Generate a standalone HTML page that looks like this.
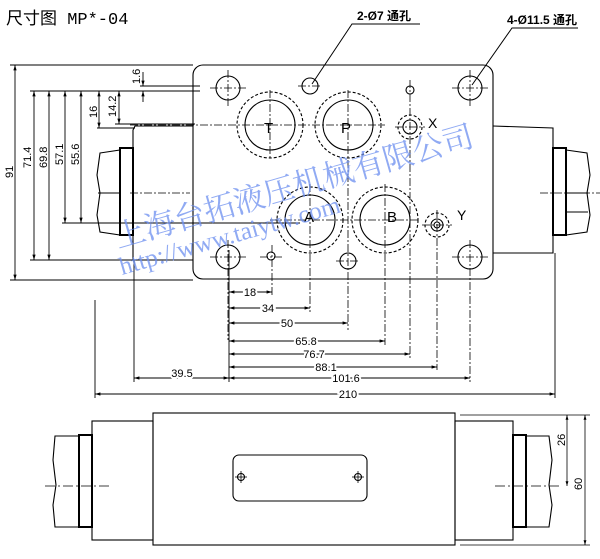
<!DOCTYPE html>
<html><head><meta charset="utf-8"><style>
html,body{margin:0;padding:0;background:#fff;}
svg{display:block;}
text{font-family:"Liberation Sans","Noto Sans CJK SC",sans-serif;fill:#000;}
</style></head><body>
<svg width="600" height="559" viewBox="0 0 600 559" xmlns="http://www.w3.org/2000/svg">
<defs>
<marker id="a" viewBox="0 0 10 10" refX="10" refY="5" markerWidth="6" markerHeight="6" orient="auto-start-reverse"><path d="M0,2L10,5L0,8z" fill="#000"/></marker>
</defs>
<text x="6" y="24" font-size="17" style="font-family:'Liberation Mono','Noto Sans CJK SC',monospace">尺寸图 MP*-04</text>

<g stroke="#000" fill="none" stroke-width="1.1">
<rect x="193" y="65" width="300" height="214" rx="10"/>
<path d="M193,126 L135,126 L133,130 L133,260 L193,260"/>
<rect x="120" y="148" width="13" height="87" stroke-width="2"/>
<path d="M100,153 L120,150 L120,235 L100,232 L97,215 L100,193 L97,175 Z"/>
<line x1="98" y1="193" x2="120" y2="193"/>
<path d="M493,126 L553,128 L553,253 L493,253"/>
<rect x="553" y="148" width="13" height="87" stroke-width="2"/>
<path d="M566,150 L587,153 L590,175 L587,193 L590,215 L587,232 L566,235 Z"/>
<line x1="566" y1="193" x2="588" y2="193"/>
<line x1="566" y1="212" x2="588" y2="212"/>
</g>

<g stroke="#000" fill="none" stroke-width="1.1">
<circle cx="228" cy="88" r="12"/><circle cx="470" cy="88" r="12"/>
<circle cx="228" cy="257" r="12"/><circle cx="470" cy="257" r="12"/>
<circle cx="310" cy="86" r="8"/><circle cx="348" cy="261" r="8"/>
<circle cx="410" cy="90" r="4"/><circle cx="271" cy="256" r="4"/>
<circle cx="270" cy="125" r="25"/><circle cx="270" cy="125" r="33" stroke-dasharray="3,2"/>
<circle cx="348" cy="125" r="25"/><circle cx="348" cy="125" r="33" stroke-dasharray="3,2"/>
<circle cx="310" cy="220" r="25"/><circle cx="310" cy="220" r="33" stroke-dasharray="3,2"/>
<circle cx="385" cy="220" r="25"/><circle cx="385" cy="220" r="33" stroke-dasharray="3,2"/>
<circle cx="410" cy="127" r="7"/><circle cx="410" cy="127" r="12" stroke-dasharray="3,2"/>
<circle cx="437" cy="225" r="6"/><circle cx="437" cy="225" r="3"/><circle cx="437" cy="225" r="12" stroke-dasharray="3,2"/>
</g>
<g stroke="#000" stroke-width="0.8" stroke-dasharray="8,2,2,2">
<line x1="210" y1="88" x2="246" y2="88"/><line x1="228" y1="70" x2="228" y2="106"/>
<line x1="452" y1="88" x2="488" y2="88"/><line x1="470" y1="70" x2="470" y2="106"/>
<line x1="210" y1="257" x2="246" y2="257"/><line x1="228" y1="240" x2="228" y2="340"/>
<line x1="452" y1="257" x2="488" y2="257"/><line x1="470" y1="240" x2="470" y2="382"/>
<line x1="130" y1="125" x2="385" y2="125"/><line x1="270" y1="90" x2="270" y2="160"/><line x1="348" y1="90" x2="348" y2="330"/>
<line x1="270" y1="220" x2="420" y2="220"/><line x1="310" y1="184" x2="310" y2="312"/><line x1="385" y1="184" x2="385" y2="345"/>
<line x1="395" y1="127" x2="425" y2="127"/><line x1="410" y1="80" x2="410" y2="358"/>
<line x1="422" y1="225" x2="452" y2="225"/><line x1="437" y1="210" x2="437" y2="370"/>
<line x1="272" y1="245" x2="272" y2="296"/><line x1="260" y1="257" x2="284" y2="257"/>
<line x1="298" y1="86" x2="322" y2="86"/><line x1="336" y1="261" x2="360" y2="261"/>
<line x1="130" y1="193" x2="190" y2="193"/><line x1="540" y1="193" x2="600" y2="193"/>
</g>
<text x="264" y="133" font-size="15">T</text><text x="341" y="133" font-size="15">P</text>
<text x="304" y="222" font-size="15">A</text><text x="387" y="222" font-size="15">B</text>
<text x="428" y="128" font-size="14">X</text><text x="457" y="220" font-size="14">Y</text>

<g stroke="#000" fill="none" stroke-width="1">
<polyline points="312,84 352,24 420,24"/><polyline points="472,85 512,28 578,28"/>
</g>
<text x="357" y="20" font-size="12" font-weight="bold">2-Ø7 通孔</text>
<text x="507" y="24" font-size="12" font-weight="bold">4-Ø11.5 通孔</text>

<g stroke="#000" stroke-width="0.9" fill="none">
<line x1="10" y1="65" x2="193" y2="65"/><line x1="10" y1="280" x2="193" y2="280"/>
<line x1="30" y1="91" x2="200" y2="91"/><line x1="30" y1="260" x2="193" y2="260"/>
<line x1="62" y1="223" x2="300" y2="223"/><line x1="97" y1="128" x2="135" y2="128"/>
<line x1="115" y1="124" x2="195" y2="124"/><line x1="140" y1="86" x2="200" y2="86"/>
<line x1="15" y1="65" x2="15" y2="280" marker-start="url(#a)" marker-end="url(#a)"/>
<line x1="34" y1="91" x2="34" y2="260" marker-start="url(#a)" marker-end="url(#a)"/>
<line x1="49" y1="91" x2="49" y2="260" marker-start="url(#a)" marker-end="url(#a)"/>
<line x1="65" y1="91" x2="65" y2="223" marker-start="url(#a)" marker-end="url(#a)"/>
<line x1="81" y1="91" x2="81" y2="223" marker-start="url(#a)" marker-end="url(#a)"/>
<line x1="99" y1="91" x2="99" y2="128" marker-start="url(#a)" marker-end="url(#a)"/>
<line x1="119" y1="91" x2="119" y2="124" marker-start="url(#a)" marker-end="url(#a)"/>
<line x1="143" y1="72" x2="143" y2="86" marker-end="url(#a)"/><line x1="143" y1="102" x2="143" y2="91" marker-end="url(#a)"/>
</g>
<g font-size="11">
<text transform="translate(13,178) rotate(-90)">91</text>
<text transform="translate(31,168) rotate(-90)">71.4</text>
<text transform="translate(47,168) rotate(-90)">69.8</text>
<text transform="translate(63,165) rotate(-90)">57.1</text>
<text transform="translate(79,165) rotate(-90)">55.6</text>
<text transform="translate(97,118) rotate(-90)">16</text>
<text transform="translate(116,117) rotate(-90)">14.2</text>
<text transform="translate(140,84) rotate(-90)">1.6</text>
</g>

<g stroke="#000" stroke-width="0.9" fill="none">
<line x1="229" y1="250" x2="229" y2="382"/><line x1="134" y1="260" x2="134" y2="382"/>
<line x1="95" y1="300" x2="95" y2="398"/><line x1="555" y1="253" x2="555" y2="398"/>
<line x1="229" y1="292" x2="272" y2="292" marker-start="url(#a)" marker-end="url(#a)"/>
<line x1="229" y1="308" x2="310" y2="308" marker-start="url(#a)" marker-end="url(#a)"/>
<line x1="229" y1="323" x2="348" y2="323" marker-start="url(#a)" marker-end="url(#a)"/>
<line x1="229" y1="341" x2="385" y2="341" marker-start="url(#a)" marker-end="url(#a)"/>
<line x1="229" y1="354" x2="410" y2="354" marker-start="url(#a)" marker-end="url(#a)"/>
<line x1="229" y1="367" x2="437" y2="367" marker-start="url(#a)" marker-end="url(#a)"/>
<line x1="229" y1="378" x2="470" y2="378" marker-start="url(#a)" marker-end="url(#a)"/>
<line x1="134" y1="378" x2="229" y2="378" marker-start="url(#a)" marker-end="url(#a)"/>
<line x1="95" y1="394" x2="555" y2="394" marker-start="url(#a)" marker-end="url(#a)"/>
</g>
<g font-size="11" text-anchor="middle" style="paint-order:stroke" stroke="#fff" stroke-width="4">
<text x="250" y="296">18</text><text x="268" y="312">34</text><text x="287" y="327">50</text>
<text x="306" y="345">65.8</text><text x="314" y="358">76.7</text><text x="326" y="371">88.1</text>
<text x="346" y="382">101.6</text><text x="182" y="377">39.5</text><text x="348" y="398">210</text>
</g>

<g stroke="#000" fill="none" stroke-width="1.1">
<rect x="153" y="413" width="302" height="132"/>
<rect x="92" y="421" width="61" height="119"/>
<rect x="79" y="435" width="13" height="92" stroke-width="2"/>
<path d="M55,436 L79,436 L79,527 L55,527 L53,505 L56,485 L53,460 Z"/>
<rect x="455" y="421" width="58" height="119"/>
<rect x="513" y="435" width="13" height="92" stroke-width="2"/>
<path d="M526,436 L549,436 L552,460 L549,485 L552,505 L549,527 L526,527 Z"/>
<rect x="233" y="455" width="134" height="46" rx="6"/>
<circle cx="241" cy="477" r="3.5"/><circle cx="358" cy="477" r="3.5"/>
</g>
<g stroke="#000" stroke-width="0.8">
<line x1="235" y1="477" x2="247" y2="477"/><line x1="241" y1="471" x2="241" y2="483"/>
<line x1="352" y1="477" x2="364" y2="477"/><line x1="358" y1="471" x2="358" y2="483"/>
<line x1="45" y1="486" x2="110" y2="486" stroke-dasharray="10,3,2,3"/>
<line x1="495" y1="486" x2="560" y2="486" stroke-dasharray="10,3,2,3"/>
<line x1="460" y1="415" x2="590" y2="415"/><line x1="460" y1="545" x2="590" y2="545"/>
<line x1="567" y1="415" x2="567" y2="486" marker-start="url(#a)" marker-end="url(#a)"/>
<line x1="585" y1="415" x2="585" y2="545" marker-start="url(#a)" marker-end="url(#a)"/>
</g>
<g font-size="11">
<text transform="translate(565,446) rotate(-90)">26</text>
<text transform="translate(582,490) rotate(-90)">60</text>
</g>

<g opacity="0.75">
<text transform="translate(118,248) rotate(-16)" font-size="31" style="fill:#6b8ef0;font-family:'Noto Serif CJK SC',serif">上海台拓液压机械有限公司</text>
<text transform="translate(122,275) rotate(-16)" font-size="25" style="fill:#6b8ef0;font-family:'Liberation Serif',serif">http://www.taiytw.com</text>
</g>
</svg>
</body></html>
